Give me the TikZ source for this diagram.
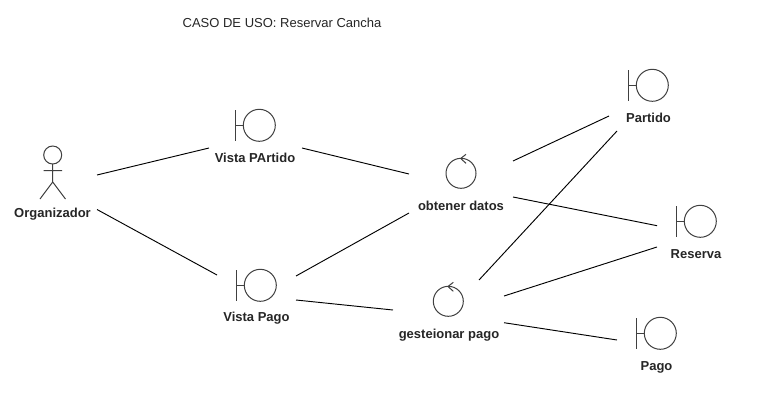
\documentclass[tikz,border=0pt]{standalone}
\usepackage{fontspec}
\setmainfont{Liberation Sans}
\tikzset{
  x=0.75pt,y=-0.75pt,
  every node/.style={inner sep=0pt,outer sep=0pt},
  lbl/.style={font=\bfseries\fontsize{9.75pt}{11pt}\selectfont,text=black!85,anchor=center},
  ttl/.style={font=\fontsize{9.75pt}{11pt}\selectfont,text=black!85,anchor=center},
  shp/.style={draw=black!75,line width=0.75pt},
  conn/.style={draw=black,line width=0.7pt},
  bnd/.style={shape=circle,draw=black!75,line width=0.75pt,minimum size=24pt},
  ctl/.style={shape=circle,draw=black!75,line width=0.75pt,minimum size=22.5pt},
  hd/.style={shape=circle,draw=black!75,line width=0.75pt,minimum size=13.5pt},
}
\begin{document}
\begin{tikzpicture}
\useasboundingbox[fill=white] (0,0) rectangle (774,418);

\node[ttl] (title) at (282,22.5) {CASO DE USO: Reservar Cancha};

% actor
\node[hd] (head) at (52.7,155) {};
\draw[shp] (head.south) -- (52.7,182) -- (40,199) (52.7,182) -- (65.5,199) (43.5,170.5) -- (62,170.5);
\node[lbl] (org) at (52.5,214) {Organizador};

% boundaries
\node[bnd] (vp) at (259.3,125.3) {};
\draw[shp] (235.7,110) -- (235.7,141) (235.7,125.3) -- (vp.west);
\node[lbl] (vpl) at (255,158) {Vista PArtido};

\node[bnd] (vg) at (260.3,285.3) {};
\draw[shp] (236.7,270) -- (236.7,301) (236.7,285.3) -- (vg.west);
\node[lbl] (vgl) at (256.5,318.5) {Vista Pago};

\node[bnd] (pa) at (652.3,85.3) {};
\draw[shp] (628.7,70) -- (628.7,101) (628.7,85.3) -- (pa.west);
\node[lbl] (pal) at (648.5,117.5) {Partido};

\node[bnd] (re) at (700.3,221.3) {};
\draw[shp] (676.7,206) -- (676.7,237) (676.7,221.3) -- (re.west);
\node[lbl] (rel) at (696,254) {Reserva};

\node[bnd] (pg) at (660.3,333.3) {};
\draw[shp] (636.7,318) -- (636.7,349) (636.7,333.3) -- (pg.west);
\node[lbl] (pgl) at (656.5,367) {Pago};

% controls
\node[ctl] (ob) at (461,173.3) {};
\draw[shp] (466,154.3) -- (460.7,158.5) -- (466,163.3);
\node[lbl] (obl) at (461,206) {obtener datos};

\node[ctl] (ge) at (448.3,301.3) {};
\draw[shp] (453.3,282.3) -- (448,286.5) -- (453.3,291.3);
\node[lbl] (gel) at (449,335.5) {gesteionar pago};

% connector ends
\coordinate (orgA) at (97,175);
\coordinate (orgB) at (97,209.5);
\coordinate (vpA) at (209,148);
\coordinate (vpB) at (302,148);
\coordinate (vgA) at (217,275);
\coordinate (vgB) at (296,276);
\coordinate (vgC) at (296,300);
\coordinate (obA) at (409,174);
\coordinate (obB) at (409,213);
\coordinate (obC) at (513,161);
\coordinate (obD) at (513,197);
\coordinate (geA) at (393,310);
\coordinate (geB) at (479,280);
\coordinate (geC) at (504,296);
\coordinate (geD) at (504,322.7);
\coordinate (paA) at (609,116);
\coordinate (paB) at (617,131);
\coordinate (reA) at (657,225.7);
\coordinate (reB) at (657,247);
\coordinate (pgA) at (617,340);

\draw[conn] (orgA) -- (vpA);
\draw[conn] (orgB) -- (vgA);
\draw[conn] (vpB) -- (obA);
\draw[conn] (vgB) -- (obB);
\draw[conn] (vgC) -- (geA);
\draw[conn] (obC) -- (paA);
\draw[conn] (obD) -- (reA);
\draw[conn] (geB) -- (paB);
\draw[conn] (geC) -- (reB);
\draw[conn] (geD) -- (pgA);
\end{tikzpicture}
\end{document}
